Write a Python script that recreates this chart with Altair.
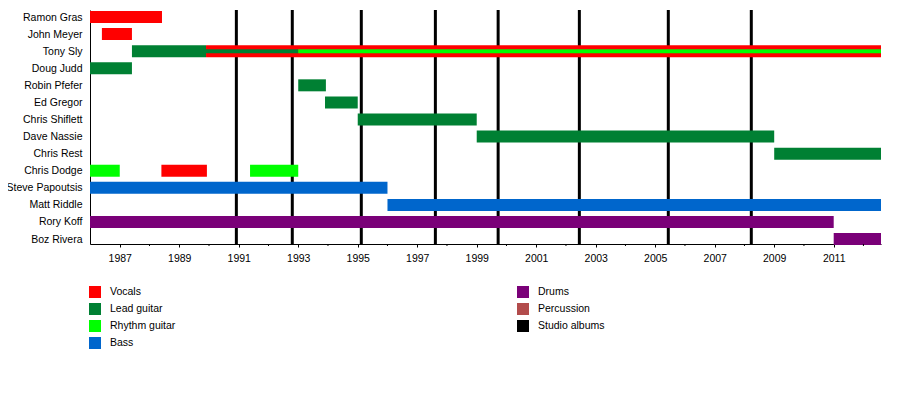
import altair as alt
import pandas as pd
import json

# ---- data ----
members = ["Ramon Gras", "John Meyer", "Tony Sly", "Doug Judd", "Robin Pfefer",
           "Ed Gregor", "Chris Shiflett", "Dave Nassie", "Chris Rest", "Chris Dodge",
           "Steve Papoutsis", "Matt Riddle", "Rory Koff", "Boz Rivera"]

roles = ["Vocals", "Lead guitar", "Rhythm guitar", "Bass", "Drums", "Percussion", "Studio albums"]
role_colors = ["#FF0000", "#008033", "#00FF00", "#0066CC", "#7A0078", "#B24C4C", "#000000"]

START = 1986.0
END = 2012.59

bar_member = ["Ramon Gras", "John Meyer", "Tony Sly", "Tony Sly", "Doug Judd", "Robin Pfefer",
              "Ed Gregor", "Chris Shiflett", "Dave Nassie", "Chris Rest",
              "Chris Dodge", "Chris Dodge", "Chris Dodge",
              "Steve Papoutsis", "Matt Riddle", "Rory Koff", "Boz Rivera"]
bar_role = ["Vocals", "Vocals", "Lead guitar", "Vocals", "Lead guitar", "Lead guitar",
            "Lead guitar", "Lead guitar", "Lead guitar", "Lead guitar",
            "Rhythm guitar", "Vocals", "Rhythm guitar",
            "Bass", "Bass", "Drums", "Drums"]
bar_start = [1986.0, 1986.4, 1987.41, 1989.9, 1986.0, 1993.0,
             1993.9, 1995.0, 1999.0, 2009.0,
             1986.0, 1988.4, 1991.38,
             1986.0, 1996.0, 1986.0, 2011.0]
bar_end = [1988.42, 1987.41, 1989.9, END, 1987.41, 1993.93,
           1995.0, 1999.0, 2009.0, END,
           1987.0, 1989.93, 1993.0,
           1996.0, END, 2011.0, END]

inner_member = ["Tony Sly", "Tony Sly"]
inner_role = ["Lead guitar", "Rhythm guitar"]
inner_start = [1989.9, 1993.0]
inner_end = [1993.0, END]

album_years = [1990.92, 1992.80, 1995.12, 1997.61, 1999.72, 2002.45, 2005.44, 2008.23]

major_ticks = list(range(1987, 2012, 2))
minor_ticks = list(range(1988, 2013, 2))

# ---- tables ----
idx = {m: i for i, m in enumerate(members)}
bars = pd.DataFrame({"member": bar_member, "role": bar_role, "start": bar_start, "end": bar_end})
bars["row"] = bars["member"].map(idx)
inner = pd.DataFrame({"member": inner_member, "role": inner_role, "start": inner_start, "end": inner_end})
inner["row"] = inner["member"].map(idx)
albums = pd.DataFrame({"year": album_years, "role": "Studio albums"})
minor = pd.DataFrame({"year": minor_ticks})

Y_TOP = -0.41
Y_BOT = 13.29
W, H = 791, 234
FONT = "Liberation Sans"

xscale = alt.Scale(domain=[START, END], nice=False, zero=False, padding=0)
yscale = alt.Scale(domain=[Y_TOP, Y_BOT], reverse=True, nice=False, zero=False, padding=0)
color = alt.Color("role:N", scale=alt.Scale(domain=roles, range=role_colors),
                  sort=None,
                  legend=alt.Legend(
                      title=None, orient="none", legendX=-1, legendY=276,
                      columns=2, columnPadding=341, rowPadding=5, padding=0,
                      symbolType="square", symbolSize=144, symbolStrokeWidth=0,
                      labelFont=FONT, labelFontSize=10.5, labelColor="#000",
                      labelOffset=9))

label_expr = json.dumps(members) + "[datum.value]"

xaxis = alt.Axis(values=major_ticks, format="d", title=None, grid=False,
                 tickSize=3, tickColor="#000", domainColor="#000",
                 labelFont=FONT, labelFontSize=10.5, labelColor="#000",
                 labelPadding=6, labelFlush=False)
yaxis = alt.Axis(values=list(range(len(members))), labelExpr=label_expr, title=None,
                 grid=False, ticks=False, domainColor="#000",
                 labelFont=FONT, labelFontSize=10.5, labelColor="#000",
                 labelPadding=8)

album_layer = alt.Chart(albums).mark_bar(size=3).encode(
    x=alt.X("year:Q", scale=xscale, axis=xaxis),
    y=alt.Y(datum=Y_TOP, scale=yscale, axis=yaxis),
    y2=alt.Y2(datum=Y_BOT),
    color=color,
)

bar_layer = alt.Chart(bars).mark_bar(size=12).encode(
    x=alt.X("start:Q", scale=xscale, axis=xaxis),
    x2="end:Q",
    y=alt.Y("row:Q", scale=yscale, axis=yaxis),
    color=color,
)

inner_layer = alt.Chart(inner).mark_bar(size=4).encode(
    x=alt.X("start:Q", scale=xscale, axis=xaxis),
    x2="end:Q",
    y=alt.Y("row:Q", scale=yscale, axis=yaxis),
    color=color,
)

minor_layer = alt.Chart(minor).mark_rule(color="#000", strokeWidth=1).encode(
    x=alt.X("year:Q", scale=xscale, axis=xaxis),
    y=alt.value(H),
    y2=alt.value(H + 2),
)

chart = alt.layer(album_layer, bar_layer, inner_layer, minor_layer).properties(
    width=W, height=H,
    autosize=alt.AutoSizeParams(type="none"),
    padding={"left": 82, "top": 2, "right": 10, "bottom": 130},
    background="white",
).configure_view(stroke=None)

chart.save("out.html", embed_options={"renderer": "svg", "actions": False})
